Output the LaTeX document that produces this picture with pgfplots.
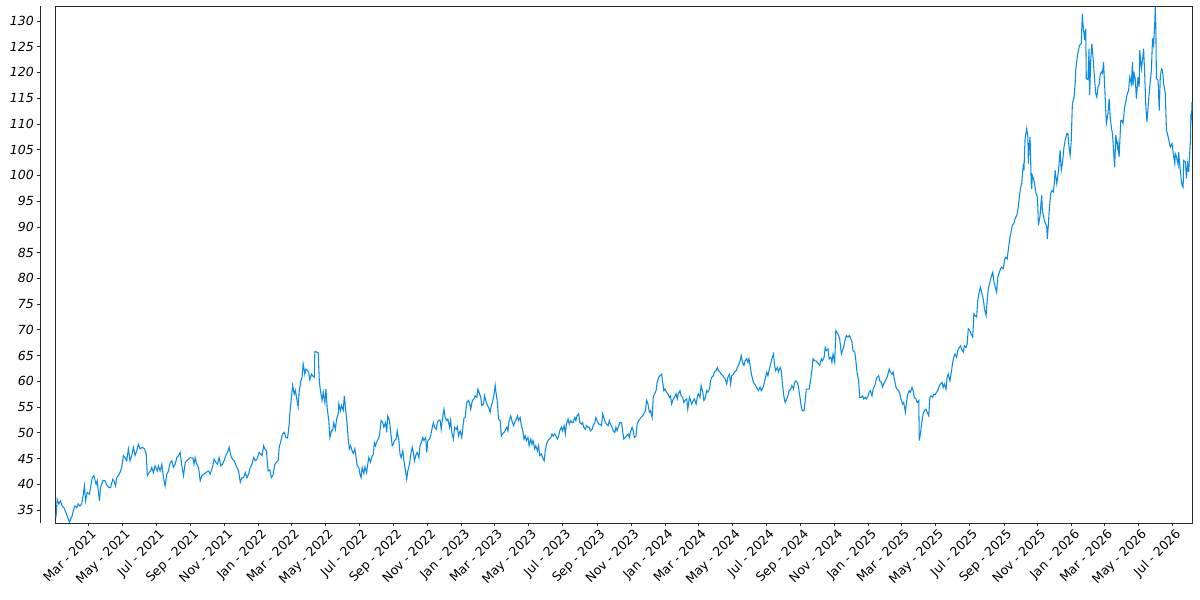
\documentclass[border=0pt]{standalone}
\usepackage{fontspec}
\setmainfont{DejaVu Sans}
\usepackage{pgfplots}
\pgfplotsset{compat=1.18}
\definecolor{linec}{RGB}{10,140,230}
\definecolor{framec}{RGB}{40,40,40}
\begin{document}
\begin{tikzpicture}
\path[use as bounding box] (-41.78pt,-57.75pt) rectangle (858.22pt,392.25pt);
\begin{axis}[name=ax, at={(0,0)}, anchor=south west, scale only axis,
 width=852.45pt, height=387.75pt,
 xmin=-58.6, xmax=1983.5, ymin=32.5, ymax=132.9,
 axis line style={framec, line width=0.6pt},
 tick align=outside, xtick pos=lower, ytick pos=left,
 major tick length=2.25pt,
 every tick/.style={framec, line width=0.6pt},
 ytick style={xshift=-11.8pt},
 xtick={0,61,122,184,245,306,365,426,487,549,610,671,730,791,852,914,975,1036,1096,1157,1218,1280,1341,1402,1461,1522,1583,1645,1706,1767,1826,1887,1948},
 xticklabels={Mar - 2021,May - 2021,Jul - 2021,Sep - 2021,Nov - 2021,Jan - 2022,Mar - 2022,May - 2022,Jul - 2022,Sep - 2022,Nov - 2022,Jan - 2023,Mar - 2023,May - 2023,Jul - 2023,Sep - 2023,Nov - 2023,Jan - 2024,Mar - 2024,May - 2024,Jul - 2024,Sep - 2024,Nov - 2024,Jan - 2025,Mar - 2025,May - 2025,Jul - 2025,Sep - 2025,Nov - 2025,Jan - 2026,Mar - 2026,May - 2026,Jul - 2026},
 xticklabel style={font=\fontsize{9.4}{11}\selectfont, rotate=45, anchor=north east, inner sep=0pt, yshift=-2pt},
 ytick={35,40,...,130},
 yticklabels={35,40,45,50,55,60,65,70,75,80,85,90,95,100,105,110,115,120,125,130},
 yticklabel style={font=\fontsize{9.4}{11}\selectfont\itshape, anchor=east, inner sep=0pt, xshift=-14pt},
]
\addplot[linec, line width=0.8pt] coordinates {
(-58,33.6)(-56,37.1)(-53,36.2)(-50,36.8)(-47,35.8)(-44,35.5)(-40,34.5)(-38,33.9)(-34,32.6)(-32,33.2)
(-29,33.9)(-27,34.9)(-24,35.8)(-21,35.5)(-18,36.2)(-15,35.8)(-12,36.2)(-9,38.1)(-7,39.7)(-5,36.8)
(-2,38.4)(2,38.1)(4,39.4)(7,41.3)(10,41.7)(14,40.0)(16,40.7)(20,36.8)(22,39.4)(26,40.7)
(30,40.7)(34,39.7)(37,39.4)(40,39.4)(44,41.0)(46,40.7)(49,39.7)(51,41.3)(54,41.7)(57,42.3)
(60,43.3)(63,45.6)(66,45.2)(69,44.6)(72,46.9)(75,44.6)(78,45.6)(81,47.2)(84,45.6)(87,46.5)
(90,47.8)(93,46.9)(97,47.2)(101,46.9)(104,45.9)(106,41.7)(109,42.3)(112,42.6)(114,43.3)(117,42.3)
(120,43.6)(124,42.6)(126,43.6)(129,42.6)(132,43.9)(135,41.3)(138,39.7)(141,42.0)(144,42.6)(147,44.2)
(150,44.6)(153,43.3)(156,43.9)(159,45.2)(162,45.6)(165,46.2)(168,43.6)(171,41.7)(174,44.2)(177,44.6)
(180,44.9)(183,45.2)(188,45.1)(190,43.9)(192,45.2)(195,43.9)(198,43.3)(201,40.7)(204,41.7)(208,42.0)
(211,42.3)(216,42.6)(219,42.0)(223,43.3)(226,44.9)(229,44.3)(232,43.9)(235,45.2)(238,43.6)(241,43.9)
(244,44.6)(247,45.6)(250,46.2)(253,47.2)(256,45.6)(259,44.9)(262,44.6)(267,43.3)(270,42.6)(273,40.4)
(276,41.3)(279,41.3)(282,42.3)(285,41.3)(288,42.0)(291,43.3)(294,43.9)(297,45.2)(300,44.6)(303,44.9)
(306,45.9)(307,46.2)
(312,45.6)(315,47.5)(317,46.9)(320,46.5)(323,42.6)(326,42.8)(329,41.3)(332,41.9)(335,43.9)(338,44.3)
(341,44.6)(343,47.2)(346,48.5)(349,49.8)(352,50.1)(355,49.1)(358,49.0)(361,51.7)(362,53.7)(365,56.9)
(367,59.2)(370,57.5)(372,58.2)(374,56.9)(377,55.1)(379,58.2)(382,60.1)(384,60.8)(386,63.4)(389,61.4)
(391,62.4)(394,62.1)(396,61.8)(398,60.3)(401,61.4)(403,61.1)(406,60.8)(407,65.8)(410,65.7)(413,65.6)
(415,60.1)(417,58.2)(420,56.3)(422,57.9)(425,55.9)(427,58.5)(429,55.0)(432,52.4)(434,49.1)(437,50.5)
(439,50.4)(441,52.0)(444,50.7)(446,52.7)(449,53.7)(450,55.6)(453,54.3)(455,55.3)(458,54.4)(460,57.2)
(462,55.0)(465,51.7)(467,48.8)(469,46.9)(471,47.5)(474,46.5)(476,46.0)(479,46.9)(481,45.2)(483,43.6)
(486,43.3)(488,42.0)(490,41.3)(492,43.3)(495,42.1)(497,43.4)(500,42.3)(502,43.9)(504,45.2)(507,44.3)
(509,45.2)(512,45.9)(514,48.1)(516,47.5)(519,48.5)(521,48.8)(523,49.4)(526,52.4)(529,52.0)(531,51.1)
(534,52.0)(536,50.1)(538,53.3)(541,52.4)(543,50.4)(546,47.5)(548,47.8)(550,48.5)(553,48.8)(555,50.4)
(558,48.5)(560,45.9)(562,45.2)(565,46.5)(567,44.6)(570,42.6)(572,41.0)(574,42.6)(577,43.9)(579,45.6)
(582,47.2)(584,46.2)(586,44.6)(589,45.9)(591,46.2)(594,45.2)(596,47.5)(598,48.1)(601,49.1)(603,48.5)
(606,49.1)(608,46.2)(610,48.5)(613,48.8)(615,49.4)(618,51.1)(620,52.0)(622,51.1)(625,50.7)(627,52.0)
(629,52.4)(632,52.5)(634,50.7)(637,53.3)(639,54.6)(641,53.0)(644,52.4)(646,52.7)(649,51.1)(651,52.5)
(653,50.1)(656,48.8)(658,51.1)(661,50.7)(663,51.2)(665,49.4)(668,50.4)
(671,49.1)(673,51.1)(675,52.9)(677,53.0)(680,55.9)(683,56.3)(686,55.3)(687,54.6)(690,56.3)(693,56.6)
(695,57.2)(698,56.9)(700,58.5)(702,57.9)(705,56.9)(707,55.3)(710,55.6)(712,57.2)(714,56.3)(717,55.3)
(719,55.0)(722,54.0)(724,55.3)(726,55.9)(729,57.5)(731,59.2)(732,58.2)(735,55.9)(737,52.7)(740,52.4)
(742,49.4)(744,49.8)(747,50.1)(749,50.4)(752,51.1)(754,50.4)(756,52.4)(759,53.3)(761,52.4)(764,51.4)
(766,52.0)(768,52.4)(771,53.3)(773,52.4)(776,53.0)(778,51.4)(780,50.7)(783,48.8)(785,49.4)(787,48.5)
(790,49.1)(792,47.5)(795,48.8)(797,47.8)(799,48.5)(802,46.9)(804,47.5)(807,46.5)(809,47.5)(811,45.6)
(814,45.9)(816,45.2)(819,44.6)(821,46.5)(823,47.8)(826,48.5)(828,48.8)(831,49.1)(833,49.8)(835,49.4)
(838,49.8)(840,49.4)(843,48.8)(845,49.4)(847,50.4)(850,51.1)(852,50.4)(855,51.4)(857,49.8)(859,51.7)
(862,52.7)(864,51.7)(867,52.4)(869,52.0)(871,52.0)(874,53.0)(876,52.4)(878,53.3)(881,53.7)(883,52.0)
(886,51.7)(888,52.0)(890,51.1)(893,50.7)(895,51.4)(898,51.1)(900,51.1)(902,50.4)(905,50.7)(907,51.4)
(910,52.0)(912,53.0)(914,52.4)(917,51.7)(919,51.7)(922,51.4)(924,53.7)(926,53.0)(929,52.0)(931,51.7)
(934,51.4)(936,52.4)(938,51.7)(941,51.1)(943,50.4)(946,50.1)(948,51.1)(950,50.4)(953,51.4)(955,52.0)
(958,52.0)(960,50.4)(962,48.8)(965,49.1)(967,49.4)(970,49.8)(972,49.1)(974,50.1)(977,51.1)(979,50.4)
(981,49.1)(984,49.4)(986,51.7)(989,52.4)(991,52.7)(993,53.0)(996,53.3)(998,53.7)(1001,54.3)(1003,56.3)
(1005,55.9)(1008,54.0)(1010,54.3)(1013,53.0)(1015,56.9)(1017,57.5)(1020,58.2)(1022,59.8)(1025,60.8)(1027,61.1)
(1030,61.4)(1032,59.8)(1034,58.2)(1036,58.5)(1039,57.9)(1041,57.6)(1044,56.9)(1046,57.2)(1048,55.6)(1051,56.6)
(1053,56.9)(1056,57.6)(1058,56.6)(1060,57.6)(1063,58.2)(1065,57.2)(1068,56.9)(1070,55.9)(1072,56.3)(1075,56.6)
(1077,54.6)(1080,56.9)(1082,56.3)(1084,55.6)(1087,56.3)(1089,56.6)(1092,55.6)(1094,56.9)(1096,57.6)(1099,56.9)
(1101,59.2)(1104,57.9)(1106,56.3)(1108,56.6)(1111,58.2)(1113,57.9)(1116,58.5)(1118,60.1)(1120,60.8)(1123,61.1)
(1125,61.8)(1128,62.1)(1130,62.7)(1132,62.1)(1135,61.8)(1137,61.4)(1140,61.1)(1142,60.8)(1144,60.5)(1147,59.5)
(1149,60.8)(1152,61.4)(1154,59.5)(1156,61.1)(1159,61.4)(1161,61.8)(1164,62.1)(1166,62.7)(1168,63.1)(1171,64.0)
(1173,65.0)(1176,63.4)(1178,63.1)(1180,64.0)(1183,64.4)(1185,63.7)(1187,64.4)(1190,62.4)(1192,61.1)(1195,59.8)
(1197,59.5)(1199,59.2)(1202,58.5)(1204,58.2)(1207,58.9)(1209,58.2)(1211,58.5)(1214,59.5)(1216,60.5)(1219,61.8)
(1221,61.1)(1223,62.1)(1226,63.4)(1228,64.4)(1231,65.3)(1233,63.1)(1235,62.1)(1238,62.7)(1240,61.8)(1243,62.7)
(1245,62.1)(1247,59.5)(1250,56.9)(1252,55.9)(1255,56.6)(1257,57.2)(1259,58.2)(1262,58.5)(1264,59.2)(1267,58.5)
(1269,59.8)(1271,60.1)(1274,59.8)(1276,58.9)(1279,56.6)(1281,55.0)(1283,54.3)(1286,54.3)(1288,56.3)(1290,58.5)
(1293,58.5)(1295,58.5)(1298,60.5)(1300,62.1)(1302,64.4)(1305,64.0)(1307,64.0)(1310,63.7)(1312,63.4)(1314,63.1)
(1317,64.4)(1319,64.0)(1322,64.7)(1324,66.6)(1326,66.0)(1329,66.3)(1331,64.4)(1334,64.7)(1336,63.7)(1338,65.3)
(1341,63.7)(1343,69.9)(1345,69.5)(1348,68.9)(1350,68.2)(1353,65.3)(1355,66.0)(1357,66.6)(1360,68.2)(1362,68.9)
(1365,68.6)(1367,68.9)(1369,68.6)(1372,67.6)(1374,66.0)(1377,65.7)(1379,64.0)(1381,61.8)(1384,60.1)(1386,56.9)
(1389,56.9)(1391,57.2)(1393,56.6)(1396,56.9)(1398,56.6)(1401,57.2)(1403,57.9)(1405,58.2)(1408,57.2)(1410,58.5)
(1413,59.2)(1415,60.1)(1417,60.8)(1420,61.1)(1422,60.1)(1425,59.8)(1427,58.9)(1429,59.5)(1432,60.1)(1434,60.5)
(1436,61.1)(1439,62.4)(1441,61.8)(1444,61.4)(1446,61.8)(1448,60.5)(1451,58.9)(1453,58.5)(1456,58.2)(1458,57.6)
(1460,56.6)(1463,55.6)(1465,55.9)(1468,54.0)(1470,55.9)(1472,57.5)(1475,58.2)(1477,57.9)(1480,58.8)(1482,58.2)
(1484,56.9)(1487,56.6)(1489,55.9)(1492,56.3)(1493,48.5)(1495,49.8)(1498,52.4)(1500,53.7)(1502,54.3)(1505,54.6)
(1507,54.0)(1510,53.3)(1512,56.9)(1514,57.2)(1517,56.9)(1519,57.5)(1522,57.5)(1524,57.9)(1526,58.2)(1529,59.2)
(1531,59.5)(1534,59.8)(1536,58.8)(1538,59.5)(1541,58.5)(1543,60.8)(1545,61.4)(1548,60.1)(1550,61.4)(1553,63.7)
(1555,64.7)(1557,65.3)(1560,64.7)(1562,66.0)(1565,66.6)(1567,66.9)(1569,66.3)(1572,65.7)(1574,66.9)(1577,66.6)
(1579,67.3)(1581,70.2)(1584,69.9)(1586,69.2)(1589,68.6)(1591,73.1)(1593,72.8)(1596,72.5)(1598,75.7)(1601,77.6)
(1603,78.3)(1605,77.3)(1608,76.0)(1610,74.1)(1613,72.8)(1615,75.7)(1617,78.0)(1620,79.3)(1622,80.2)(1625,81.2)
(1627,79.3)(1629,78.6)(1632,77.3)(1634,80.2)(1637,81.2)(1639,81.9)(1641,82.2)(1644,81.9)(1646,83.5)(1648,84.1)
(1651,83.8)(1653,85.7)(1656,88.0)(1658,89.0)(1660,90.3)(1663,90.7)(1665,91.6)(1668,92.2)(1670,93.2)(1672,95.1)
(1675,97.7)(1677,98.4)(1680,102.3)(1681,101.0)(1682,104.2)(1683,107.1)(1686,109.1)(1688,107.5)(1689,102.3)(1690,104.9)
(1692,107.5)(1693,103.2)(1694,98.7)(1695,97.4)(1696,100.0)(1699,99.0)(1701,97.7)(1702,96.8)(1705,95.8)(1706,93.8)
(1707,90.3)(1710,92.2)(1712,95.1)(1713,96.1)(1714,93.2)(1717,91.6)(1719,90.9)(1722,90.0)(1723,87.7)(1725,90.6)
(1726,92.6)(1729,96.4)(1731,97.1)(1734,96.8)(1736,99.0)(1737,101.0)(1740,98.4)(1742,100.0)(1744,102.0)(1746,104.9)
(1748,101.0)(1750,102.3)(1753,105.5)(1755,106.8)(1758,108.1)(1760,108.1)(1762,105.5)(1764,103.9)(1766,106.8)(1768,113.9)
(1771,115.2)(1773,117.8)(1774,120.4)(1777,123.3)(1779,124.3)(1781,125.3)(1784,125.6)(1785,128.8)(1786,131.4)(1787,129.5)
(1790,126.3)(1791,127.9)(1792,128.2)(1793,118.8)(1796,118.6)(1798,124.6)(1799,115.6)(1801,122.4)(1803,125.6)(1805,123.0)
(1807,120.1)(1808,118.5)(1810,115.9)(1812,115.2)(1814,117.2)(1816,117.5)(1818,119.5)(1820,120.1)(1822,119.8)(1824,122.0)
(1826,117.5)(1828,112.6)(1829,110.1)(1832,112.0)(1834,114.9)(1836,111.3)(1838,109.4)(1840,108.1)(1842,104.9)(1844,101.6)
(1846,107.8)(1849,105.5)(1850,106.2)(1852,103.6)(1855,110.7)(1857,110.7)(1859,110.1)(1862,113.3)(1864,114.3)(1866,115.6)
(1869,116.5)(1871,119.1)(1874,117.8)(1876,122.0)(1877,117.5)(1879,119.8)(1881,118.8)(1883,114.9)(1886,119.1)(1888,117.2)
(1889,124.3)(1892,120.7)(1894,122.4)(1896,124.6)(1898,119.5)(1900,113.3)(1902,110.4)(1905,114.6)(1907,117.2)(1910,120.4)
(1912,126.6)(1914,125.3)(1916,129.5)(1917,132.7)(1918,128.5)(1919,118.8)(1922,118.5)(1924,112.6)(1926,119.1)(1928,120.7)
(1930,120.4)(1932,117.8)(1935,115.9)(1937,108.8)(1940,107.5)(1942,106.5)(1944,105.5)(1947,106.2)(1949,104.5)(1952,102.3)
(1953,104.2)(1955,103.6)(1958,102.0)(1959,104.5)(1961,102.0)(1964,98.7)(1965,98.1)(1967,97.7)(1968,102.9)(1971,102.6)
(1973,99.4)(1975,102.3)(1977,100.7)(1980,106.5)(1981,112.0)(1982,110.7)(1983,114.3)
};
\end{axis}
\draw[framec, line width=0.6pt] ([xshift=-11.8pt]ax.south west) -- ([xshift=-11.8pt]ax.north west);
\end{tikzpicture}
\end{document}
